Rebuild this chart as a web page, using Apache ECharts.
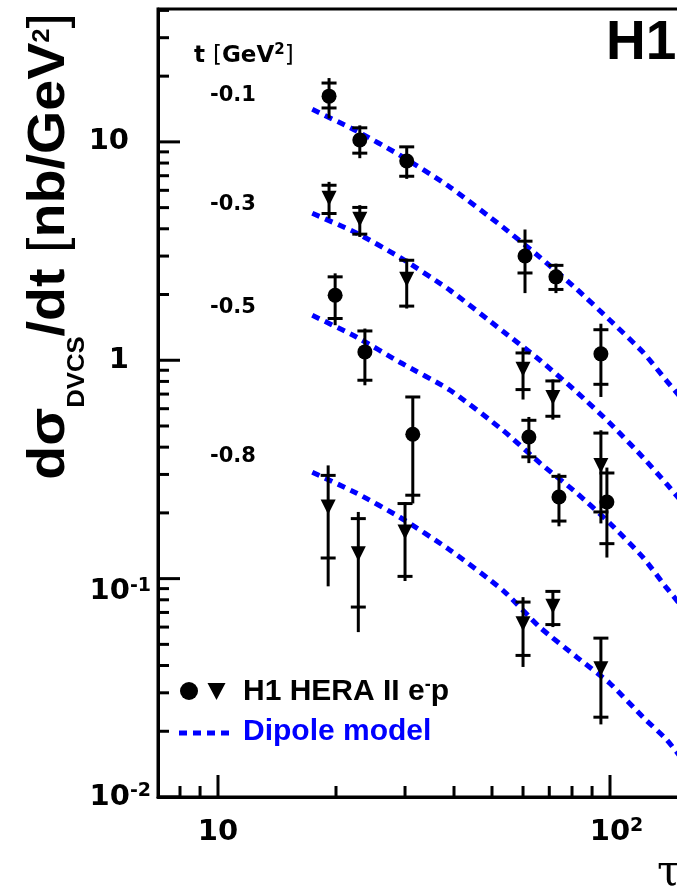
<!DOCTYPE html>
<html><head><meta charset="utf-8">
<script src="https://cdn.jsdelivr.net/npm/echarts@6/dist/echarts.min.js"></script>
<style>html,body{margin:0;padding:0;background:#fff}#c{width:677px;height:890px}</style>
</head><body><div id="c"></div>
<script>
// ---- axis ranges & ticks ----
const X_MIN = 7.03, X_MAX = 200;
const Y_MIN = 0.01, Y_MAX = 40.6;
const xMajorTicks = [10, 100];
const xMinorTicks = [8, 9, 20, 30, 40, 50, 60, 70, 80, 90];
const yMajorTicks = [0.01, 0.1, 1, 10];
const yMinorTicks = [0.02,0.03,0.04,0.05,0.06,0.07,0.08,0.09,0.2,0.3,0.4,0.5,0.6,0.7,0.8,0.9,2,3,4,5,6,7,8,9,20,30,40];
const xTickLabels = {1: ['10', ''], 2: ['10', '2']};
const yTickLabels = {1: ['10', ''], 0: ['1', ''], '-1': ['10', '-1'], '-2': ['10', '-2']};

// ---- t bins ----
const tBinLabels = ['-0.1', '-0.3', '-0.5', '-0.8'];

// t = -0.1 GeV^2 (circles)
const x_t01 = [19.2, 23.0, 30.3, 60.7, 72.8, 94.8];
const y_t01 = [16.2, 10.2, 8.18, 3.00, 2.41, 1.07];
const statHi_t01 = [18.6, 11.6, 9.49, 3.51, 2.72, 1.38];
const statLo_t01 = [14.3, 8.88, 6.96, 2.51, 2.11, 0.776];
const totHi_t01 = [19.6, 11.9, 9.56, 3.97, 2.77, 1.47];
const totLo_t01 = [12.8, 8.42, 6.77, 2.03, 2.03, 0.679];

// t = -0.3 GeV^2 (triangles)
const x_t03 = [19.2, 23.0, 30.3, 60.0, 71.5, 94.8];
const y_t03 = [5.52, 4.42, 2.35, 0.909, 0.675, 0.330];
const statHi_t03 = [6.33, 5.01, 2.87, 1.080, 0.804, 0.464];
const statLo_t03 = [4.70, 3.78, 1.77, 0.734, 0.554, 0.202];
const totHi_t03 = [6.56, 5.13, 2.92, 1.144, 0.816, 0.478];
const totLo_t03 = [4.46, 3.67, 1.725, 0.661, 0.535, 0.179];

// t = -0.5 GeV^2 (circles)
const x_t05 = [19.9, 23.7, 31.4, 62.1, 74.1, 98.2];
const y_t05 = [1.985, 1.092, 0.458, 0.445, 0.2365, 0.2243];
const statHi_t05 = [2.41, 1.362, 0.679, 0.531, 0.294, 0.3046];
const statLo_t05 = [1.553, 0.810, 0.241, 0.361, 0.1835, 0.1446];
const totHi_t05 = [2.50, 1.397, 0.684, 0.550, 0.303, 0.3225];
const totLo_t05 = [1.447, 0.768, 0.221, 0.338, 0.1736, 0.1249];

// t = -0.8 GeV^2 (triangles)
const x_t08 = [19.1, 22.8, 30.0, 60.0, 71.5, 94.8];
const y_t08 = [0.213, 0.130, 0.1634, 0.0622, 0.0747, 0.0387];
const statHi_t08 = [0.297, 0.1883, 0.2207, 0.0781, 0.0874, 0.0534];
const statLo_t08 = [0.1243, 0.0741, 0.1024, 0.0445, 0.0616, 0.0232];
const totHi_t08 = [0.330, 0.202, 0.2243, 0.0823, 0.0884, 0.054];
const totLo_t08 = [0.0922, 0.0569, 0.0975, 0.0394, 0.060, 0.0215];

// Dipole model curves
const dipoleX = [17.4, 22.6, 29.1, 39.1, 53.3, 66.3, 82.4, 100, 121.4, 139.8, 169.7];
const dipole_t01 = [14.1, 11.2, 8.69, 6.20, 4.07, 2.96, 2.11, 1.525, 1.088, 0.801, 0.531];
const dipole_t03 = [4.71, 3.82, 2.96, 2.09, 1.358, 1.0, 0.713, 0.515, 0.359, 0.270, 0.179];
const dipole_t05 = [1.607, 1.275, 0.979, 0.729, 0.478, 0.338, 0.246, 0.179, 0.125, 0.0902, 0.0592];
const dipole_t08 = [0.307, 0.246, 0.191, 0.135, 0.0884, 0.0598, 0.0436, 0.0331, 0.0232, 0.0182, 0.0117];

const legendData = 'H1 HERA II e';
const legendModel = 'Dipole model';

// ---- build ----
const SANS = "'Liberation Sans', Arial, sans-serif";
const DJV = "'DejaVu Sans', sans-serif";
const BLUE = '#0000ff';

function zip(xs, ys) { return xs.map((x, i) => [x, ys[i]]); }
function errData(xs, tl, th, sl, sh) { return xs.map((x, i) => [x, tl[i], th[i], sl[i], sh[i]]); }

const bins = [
  {x: x_t01, y: y_t01, sh: statHi_t01, sl: statLo_t01, th: totHi_t01, tl: totLo_t01, sym: 'circle'},
  {x: x_t03, y: y_t03, sh: statHi_t03, sl: statLo_t03, th: totHi_t03, tl: totLo_t03, sym: 'tri'},
  {x: x_t05, y: y_t05, sh: statHi_t05, sl: statLo_t05, th: totHi_t05, tl: totLo_t05, sym: 'circle'},
  {x: x_t08, y: y_t08, sh: statHi_t08, sl: statLo_t08, th: totHi_t08, tl: totLo_t08, sym: 'tri'}
];
const dipoles = [dipole_t01, dipole_t03, dipole_t05, dipole_t08];

const series = [];
dipoles.forEach((d) => {
  series.push({
    type: 'line', data: zip(dipoleX, d), symbol: 'none', smooth: 0.2, z: 1,
    lineStyle: {color: BLUE, width: 5, type: [8, 6], cap: 'butt'}, silent: true
  });
});
bins.forEach((b) => {
  series.push({
    type: 'custom', z: 2, data: errData(b.x, b.tl, b.th, b.sl, b.sh),
    encode: {x: 0, y: [1, 2]},
    renderItem: function (params, api) {
      const x = api.value(0);
      const a = api.coord([x, api.value(1)]);
      const c = api.coord([x, api.value(2)]);
      const s1 = api.coord([x, api.value(3)]);
      const s2 = api.coord([x, api.value(4)]);
      const hw = 7.5;
      const st = {stroke: '#000', lineWidth: 3};
      return {type: 'group', children: [
        {type: 'line', shape: {x1: a[0], y1: a[1], x2: c[0], y2: c[1]}, style: st},
        {type: 'line', shape: {x1: s1[0] - hw, y1: s1[1], x2: s1[0] + hw, y2: s1[1]}, style: st},
        {type: 'line', shape: {x1: s2[0] - hw, y1: s2[1], x2: s2[0] + hw, y2: s2[1]}, style: st}
      ]};
    }
  });
  series.push({
    type: 'scatter', z: 3, data: zip(b.x, b.y),
    symbol: b.sym === 'circle' ? 'circle' : 'triangle',
    symbolRotate: b.sym === 'circle' ? 0 : 180,
    symbolSize: b.sym === 'circle' ? 15 : [15, 15],
    itemStyle: {color: '#000', opacity: 1}
  });
});
// axis ticks (inside, major + minor)
const tickData = [];
xMajorTicks.forEach(v => tickData.push([v, Y_MIN, 0, 22]));
xMinorTicks.forEach(v => tickData.push([v, Y_MIN, 0, 11]));
yMajorTicks.forEach(v => tickData.push([X_MIN, v, 1, 22]));
yMinorTicks.forEach(v => tickData.push([X_MIN, v, 1, 11]));
series.push({
  type: 'custom', z: 5, data: tickData, encode: {x: 0, y: 1}, silent: true,
  renderItem: function (params, api) {
    const p = api.coord([api.value(0), api.value(1)]);
    const isY = api.value(2) === 1;
    const len = api.value(3);
    return {type: 'line', shape: isY ? {x1: p[0], y1: p[1], x2: p[0] + len, y2: p[1]}
                                     : {x1: p[0], y1: p[1], x2: p[0], y2: p[1] - len},
            style: {stroke: '#000', lineWidth: 3}};
  }
});

function xFmt(v) {
  const e = Math.round(Math.log10(v));
  const l = xTickLabels[e];
  if (!l) return '';
  return l[1] ? '{p| }{b|' + l[0] + '}{s|' + l[1] + '}' : '{b|' + l[0] + '}';
}
function yFmt(v) {
  const e = Math.round(Math.log10(v));
  const l = yTickLabels[e];
  if (!l) return '';
  if (!l[1]) return '{b|' + l[0] + '}{p| }';
  return (e === -1 ? '\n' : '') + '{b|' + l[0] + '}{s|' + l[1] + '}';
}
const labRich = {
  b: {fontFamily: DJV, fontWeight: 'bold', fontSize: 29, lineHeight: 30, color: '#000'},
  s: {fontFamily: DJV, fontWeight: 'bold', fontSize: 19, lineHeight: 14, verticalAlign: 'top', color: '#000'},
  p: {fontFamily: DJV, fontSize: 19, width: 22, lineHeight: 14}
};
const labRichX = Object.assign({}, labRich, {p: {fontFamily: DJV, fontSize: 19, width: 13, lineHeight: 14}});

const axisCommon = {
  type: 'log', logBase: 10,
  axisLine: {show: true, onZero: false, lineStyle: {color: '#000', width: 3}},
  axisTick: {show: false}, minorTick: {show: false},
  splitLine: {show: false}, minorSplitLine: {show: false}
};

const graphics = [
  // H1 label
  {type: 'text', x: 606, y: 44, style: {text: 'H1', font: 'bold 55px ' + SANS, fill: '#000', verticalAlign: 'middle'}},
  // t header
  {type: 'text', x: 194, y: 56, style: {
    text: '{b|t }{r|[}{b|GeV}{s|2}{r|]}', verticalAlign: 'middle',
    rich: {
      b: {fontFamily: DJV, fontWeight: 'bold', fontSize: 23, lineHeight: 26, fill: '#000'},
      r: {fontFamily: DJV, fontWeight: 'normal', fontSize: 23, lineHeight: 26, fill: '#000'},
      s: {fontFamily: DJV, fontWeight: 'bold', fontSize: 15, lineHeight: 14, verticalAlign: 'top', fill: '#000'}
    }}},
  // y title
  {type: 'text', x: 24, y: 13, rotation: Math.PI / 2, scaleX: 1.07, style: {
    text: '{n|dσ}{sub|DVCS}{n|/dt }{r|[}{n|nb/GeV}{sup|2}{r|]}', align: 'right', verticalAlign: 'top',
    rich: {
      n: {fontFamily: SANS, fontWeight: 'bold', fontSize: 52, lineHeight: 52, verticalAlign: 'top', fill: '#000'},
      r: {fontFamily: SANS, fontWeight: 'normal', fontSize: 52, lineHeight: 52, verticalAlign: 'top', fill: '#000'},
      sub: {fontFamily: SANS, fontWeight: 'bold', fontSize: 24, lineHeight: 65, verticalAlign: 'bottom', fill: '#000'},
      sup: {fontFamily: SANS, fontWeight: 'bold', fontSize: 24, lineHeight: 24, padding: [6, 0, 0, 0], verticalAlign: 'top', fill: '#000'}
    }}},
  // x axis title (cut off at right edge)
  {type: 'text', x: 657, y: 874, style: {text: 'τ', font: '42px "DejaVu Serif", serif', fill: '#000', verticalAlign: 'middle'}},
  // legend
  {type: 'circle', shape: {cx: 189, cy: 691, r: 9}, style: {fill: '#000'}},
  {type: 'polygon', shape: {points: [[207.5, 683], [225.5, 683], [216.5, 700]]}, style: {fill: '#000'}},
  {type: 'text', x: 243, y: 692, style: {
    text: '{b|' + legendData + '}{s|-}{b|p}', verticalAlign: 'middle',
    rich: {
      b: {fontFamily: SANS, fontWeight: 'bold', fontSize: 30, lineHeight: 32, fill: '#000'},
      s: {fontFamily: SANS, fontWeight: 'bold', fontSize: 18, lineHeight: 16, verticalAlign: 'top', fill: '#000'}
    }}},
  {type: 'line', shape: {x1: 179, y1: 733, x2: 233, y2: 733}, style: {stroke: BLUE, lineWidth: 5, lineDash: [8, 6]}},
  {type: 'text', x: 243, y: 732, style: {text: legendModel, font: 'bold 30px ' + SANS, fill: BLUE, verticalAlign: 'middle'}}
];
const tY = [95.5, 205, 308, 457];
tBinLabels.forEach((t, i) => graphics.push({type: 'text', x: 210, y: tY[i],
  style: {text: t, font: 'bold 21px ' + DJV, fill: '#000', verticalAlign: 'middle'}}));

const option = {
  animation: false,
  backgroundColor: '#fff',
  grid: {left: 158, top: 9, width: 570, height: 788, show: true, borderColor: '#000', borderWidth: 3,
         containLabel: false, outerBoundsMode: 'none'},
  xAxis: Object.assign({}, axisCommon, {min: X_MIN, max: X_MAX,
    axisLabel: {showMinLabel: false, showMaxLabel: false, margin: 20, formatter: xFmt, rich: labRichX}}),
  yAxis: Object.assign({}, axisCommon, {min: Y_MIN, max: Y_MAX,
    axisLabel: {showMinLabel: true, showMaxLabel: false, margin: 7, lineHeight: 26, formatter: yFmt, rich: labRich}}),
  series: series,
  graphic: graphics
};
const chart = echarts.init(document.getElementById('c'));
chart.setOption(option);
</script></body></html>
